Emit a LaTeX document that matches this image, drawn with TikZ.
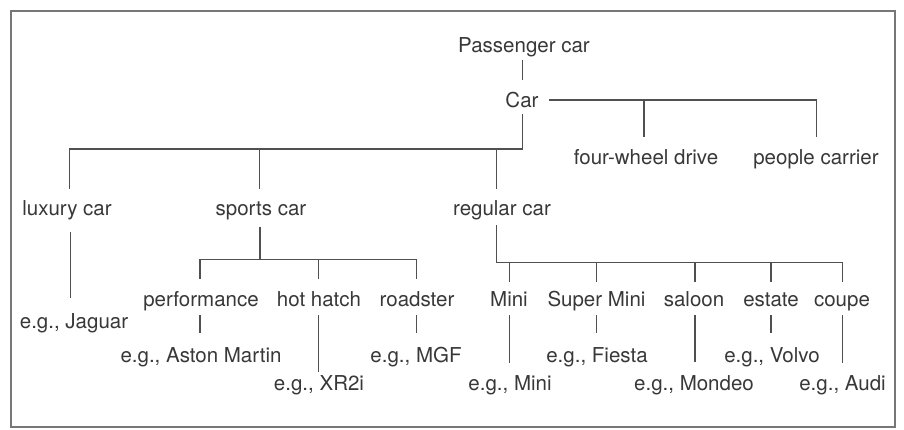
\documentclass[tikz,border=0pt]{standalone}
\usepackage{fontspec}
\setmainfont{TeX Gyre Heros}
\definecolor{txt}{HTML}{383838}
\definecolor{ln}{HTML}{505050}
\definecolor{framec}{HTML}{777777}
\begin{document}
\begin{tikzpicture}[x=1bp,y=-1bp,
  lbl/.style={anchor=base,inner sep=0pt,text=txt,font=\fontsize{20.5bp}{24bp}\selectfont},
  conn/.style={draw=ln,line width=1.2bp}]
\useasboundingbox (0,0) rectangle (904,429);
\fill[white] (0,0) rectangle (904,429);
\draw[line width=2bp,draw=framec] (10.5,11) rectangle (895,426.5);

% nodes
\node[lbl] (pc) at (524,52.7) {Passenger car};
\node[lbl] (car) at (522,107) {Car};
\node[lbl] (fwd) at (646,164) {four-wheel drive};
\node[lbl] (pcar) at (816,164) {people carrier};
\node[lbl] (lux) at (67,215) {luxury car};
\node[lbl] (spo) at (261,215) {sports car};
\node[lbl] (reg) at (502,215) {regular car};

\node[lbl] (perf) at (201,306.5) {performance};
\node[lbl] (hot) at (319,306.5) {hot hatch};
\node[lbl] (road) at (417,306.5) {roadster};
\node[lbl] (mini) at (509,306.5) {Mini};
\node[lbl] (smini) at (596.5,306.5) {Super Mini};
\node[lbl] (sal) at (694,306.5) {saloon};
\node[lbl] (est) at (771,306.5) {estate};
\node[lbl] (cou) at (842,306.5) {coupe};

\node[lbl] (jag) at (74,328) {e.g., Jaguar};
\node[lbl] (aston) at (201,362) {e.g., Aston Martin};
\node[lbl] (mgf) at (416,362) {e.g., MGF};
\node[lbl] (fiesta) at (597,362) {e.g., Fiesta};
\node[lbl] (volvo) at (772,362) {e.g., Volvo};
\node[lbl] (xr) at (319,390.5) {e.g., XR2i};
\node[lbl] (emini) at (510,390.5) {e.g., Mini};
\node[lbl] (mondeo) at (694,390.5) {e.g., Mondeo};
\node[lbl] (audi) at (842.5,390.5) {e.g., Audi};

% connectors: top
\draw[conn] (pc.base) ++(-1.3,7.3) -- ++(0,20.4);
\draw[conn] (car.base) ++(27,-7) -- ++(267.7,0) -- ++(0,37);
\draw[conn] (fwd.base) ++(-2,-27) -- ++(0,-37);
\draw[conn] (car.base) ++(0.7,7) -- ++(0,35) -- ++(-453.4,0) -- ++(0,40.3);
\draw[conn] (spo.base) ++(-1.7,-66) -- ++(0,40.3);
\draw[conn] (reg.base) ++(-5.3,-66) -- ++(0,40.3);

% luxury
\draw[conn] (lux.base) ++(3.7,16.7) -- ++(0,66.3);

% sports
\draw[conn] (spo.base) ++(-1,11.7) -- ++(0,32.6);
\draw[conn] (perf.base) ++(-1,-28) -- ++(0,-19) -- ++(216.7,0) -- ++(0,19);
\draw[conn] (hot.base) ++(-0.7,-28) -- ++(0,-19);

% regular
\draw[conn] (reg.base) ++(-5.3,10) -- ++(0,37.7) -- ++(346,0) -- ++(0,19);
\draw[conn] (mini.base) ++(0.3,-25) -- ++(0,-18.8);
\draw[conn] (smini.base) ++(0.2,-25) -- ++(0,-18.8);
\draw[conn] (sal.base) ++(1,-25) -- ++(0,-18.8);
\draw[conn] (est.base) ++(0,-25) -- ++(0,-18.8);

% lower drops
\draw[conn] (perf.base) ++(-1,8.5) -- ++(0,18.3);
\draw[conn] (hot.base) ++(-0.7,8.5) -- ++(0,56.7);
\draw[conn] (road.base) ++(-0.3,8.5) -- ++(0,18.3);
\draw[conn] (mini.base) ++(0.3,8.5) -- ++(0,48.3);
\draw[conn] (smini.base) ++(0.2,8.5) -- ++(0,18.3);
\draw[conn] (sal.base) ++(1,8.5) -- ++(0,46.7);
\draw[conn] (est.base) ++(0,8.5) -- ++(0,18);
\draw[conn] (cou.base) ++(0.7,8.5) -- ++(0,48);
\end{tikzpicture}
\end{document}
